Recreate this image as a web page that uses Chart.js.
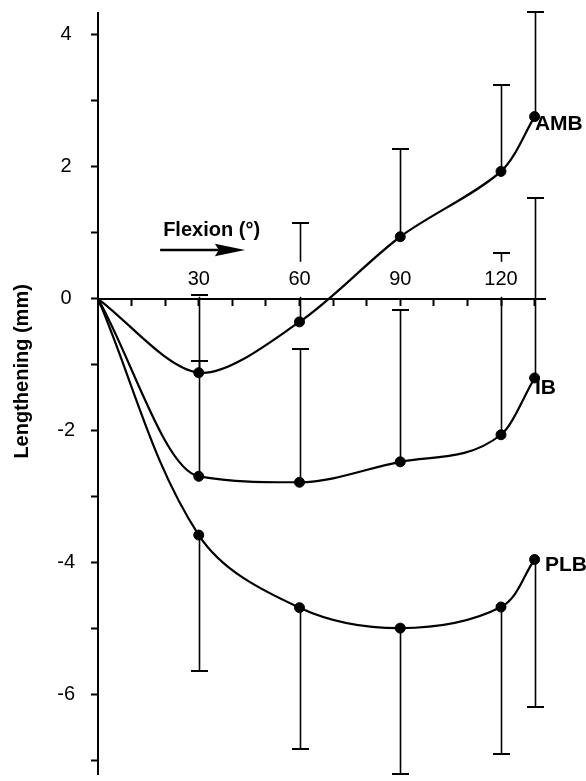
<!DOCTYPE html>
<html><head><meta charset="utf-8">
<script src="https://cdn.jsdelivr.net/npm/chart.js@4.4.1/dist/chart.umd.min.js"></script>
<style>html,body{margin:0;padding:0;background:#fff}canvas{display:block}</style>
</head><body>
<canvas id="c" width="586" height="781"></canvas>
<script>
// ---- data ----
const angles    = [0, 30, 60, 90, 120, 130];           // flexion (deg)
const amb       = [0, -1.12, -0.35, 0.94, 1.93, 2.76];  // mean lengthening (mm)
const ambUpper  = [null, 0.06, 1.15, 2.27, 3.24, 4.35]; // mean + SD
const ib        = [0, -2.69, -2.78, -2.47, -2.06, -1.20];
const ibUpper   = [null, -0.95, -0.76, -0.17, 0.70, 1.53];
const plb       = [0, -3.58, -4.68, -4.99, -4.67, -3.95];
const plbLower  = [null, -5.64, -6.82, -7.20, -6.89, -6.18]; // mean - SD
const xTickLabels = [30, 60, 90, 120];
const yTickLabels = [4, 2, 0, -2, -4, -6];
const seriesNames = ['AMB', 'IB', 'PLB'];
const yTitle = 'Lengthening (mm)';
const xTitle = 'Flexion (\u00B0)';

const FONT = "'Liberation Sans', Arial, Helvetica, sans-serif";

const bars = [
  {mean: amb, bound: ambUpper},
  {mean: ib,  bound: ibUpper},
  {mean: plb, bound: plbLower}
];
// label anchors in data units (angle, mm)
const nameAnchors = [[130.1, 2.64], [130.1, -1.35], [133.1, -4.03]];

function toXY(vals){ return vals.map((v,i)=>({x: angles[i], y: v})); }

const decor = {
  id: 'decor',
  afterDatasetsDraw(chart){
    const {ctx, scales:{x, y}} = chart;
    ctx.save();
    ctx.strokeStyle = '#000';
    ctx.lineWidth = 1.6;
    bars.forEach(b => b.bound.forEach((v,i) => {
      if (v === null) return;
      const px = Math.round(x.getPixelForValue(angles[i])) + 0.5;
      ctx.beginPath();
      ctx.moveTo(px, y.getPixelForValue(b.mean[i]));
      ctx.lineTo(px, y.getPixelForValue(v));
      ctx.stroke();
    }));
    ctx.restore();
  },
  afterDraw(chart){
    const {ctx, scales:{x, y}} = chart;
    ctx.save();
    // caps
    ctx.strokeStyle = '#000';
    ctx.lineWidth = 2;
    bars.forEach(b => b.bound.forEach((v,i) => {
      if (v === null) return;
      const px = Math.round(x.getPixelForValue(angles[i])) + 0.5;
      const py = Math.round(y.getPixelForValue(v));
      ctx.beginPath();
      ctx.moveTo(px - 8.5, py); ctx.lineTo(px + 8.5, py);
      ctx.stroke();
    }));
    ctx.fillStyle = '#000';
    // series names
    ctx.font = 'bold 21px ' + FONT;
    ctx.textAlign = 'left';
    ctx.textBaseline = 'middle';
    seriesNames.forEach((n,i) => {
      ctx.fillText(n, x.getPixelForValue(nameAnchors[i][0]), y.getPixelForValue(nameAnchors[i][1]));
    });
    // x title and arrow
    ctx.font = 'bold 20px ' + FONT;
    ctx.textBaseline = 'alphabetic';
    ctx.fillText(xTitle, x.getPixelForValue(19.4), y.getPixelForValue(0.95));
    const ay = y.getPixelForValue(0.74);
    const ax0 = x.getPixelForValue(18.5), ax1 = x.getPixelForValue(43.8), ah = x.getPixelForValue(34.8);
    ctx.lineWidth = 2.6;
    ctx.beginPath(); ctx.moveTo(ax0, ay); ctx.lineTo(ah + 4, ay); ctx.stroke();
    ctx.beginPath();
    ctx.moveTo(ax1, ay); ctx.lineTo(ah, ay - 6.3); ctx.lineTo(ah + 4, ay); ctx.lineTo(ah, ay + 6.3);
    ctx.closePath(); ctx.fill();
    // y title
    ctx.translate(22, y.getPixelForValue(-1.1));
    ctx.rotate(-Math.PI/2);
    ctx.font = 'bold 20px ' + FONT;
    ctx.textAlign = 'center';
    ctx.textBaseline = 'middle';
    ctx.fillText(yTitle, 0, 0);
    ctx.restore();
  }
};

const lineDs = (vals, mode, tension) => ({
  data: toXY(vals),
  borderColor: '#000',
  borderWidth: 2.2,
  backgroundColor: '#000',
  pointBackgroundColor: '#000',
  pointBorderColor: '#000',
  pointBorderWidth: 1,
  pointRadius: (c) => c.dataIndex === 0 ? 0 : 5,
  cubicInterpolationMode: mode,
  tension: tension,
  fill: false
});

new Chart(document.getElementById('c'), {
  type: 'line',
  data: { datasets: [lineDs(amb, 'default', 0.3), lineDs(ib, 'monotone', 0.4), lineDs(plb, 'default', 0.35)] },
  options: {
    responsive: false,
    animation: false,
    events: [],
    layout: { padding: { top: 13, bottom: 7, left: 0, right: 41 } },
    plugins: { legend: {display: false}, tooltip: {enabled: false}, title: {display: false} },
    scales: {
      x: {
        type: 'linear',
        position: { y: 0 },
        min: 0, max: 133.1,
        grid: { display: true, drawOnChartArea: false, drawTicks: true, tickLength: 6, tickWidth: 2, tickColor: '#000', color: '#000' },
        border: { display: true, color: '#000', width: 2 },
        ticks: {
          z: 1,
          stepSize: 10,
          includeBounds: false,
          autoSkip: false,
          maxRotation: 0,
          padding: -37,
          color: '#000',
          font: { family: FONT, size: 20 },
          callback: (v) => xTickLabels.includes(v) ? String(v) : '',
          showLabelBackdrop: (c) => c.tick && xTickLabels.includes(c.tick.value),
          backdropColor: '#fff',
          backdropPadding: { top: 6, bottom: 5, left: 3, right: 3 }
        },
        afterFit: (s) => { s.paddingLeft = 0; s.paddingRight = 0; s.paddingTop = 0; s.paddingBottom = 0; }
      },
      y: {
        type: 'linear',
        position: 'left',
        min: -7.2, max: 4.33,
        grid: { display: true, drawOnChartArea: false, drawTicks: true, tickLength: 7, tickWidth: 2, tickColor: '#000', color: '#000' },
        border: { display: true, color: '#000', width: 2 },
        ticks: {
          stepSize: 1,
          includeBounds: false,
          autoSkip: false,
          padding: 16,
          crossAlign: 'center',
          color: '#000',
          font: { family: FONT, size: 20 },
          callback: (v) => yTickLabels.includes(v) ? String(v) : ''
        },
        afterFit: (s) => { s.width = 98; s.paddingTop = 0; s.paddingBottom = 0; s.paddingLeft = 0; s.paddingRight = 0; }
      }
    }
  },
  plugins: [decor]
});
</script>
</body></html>
